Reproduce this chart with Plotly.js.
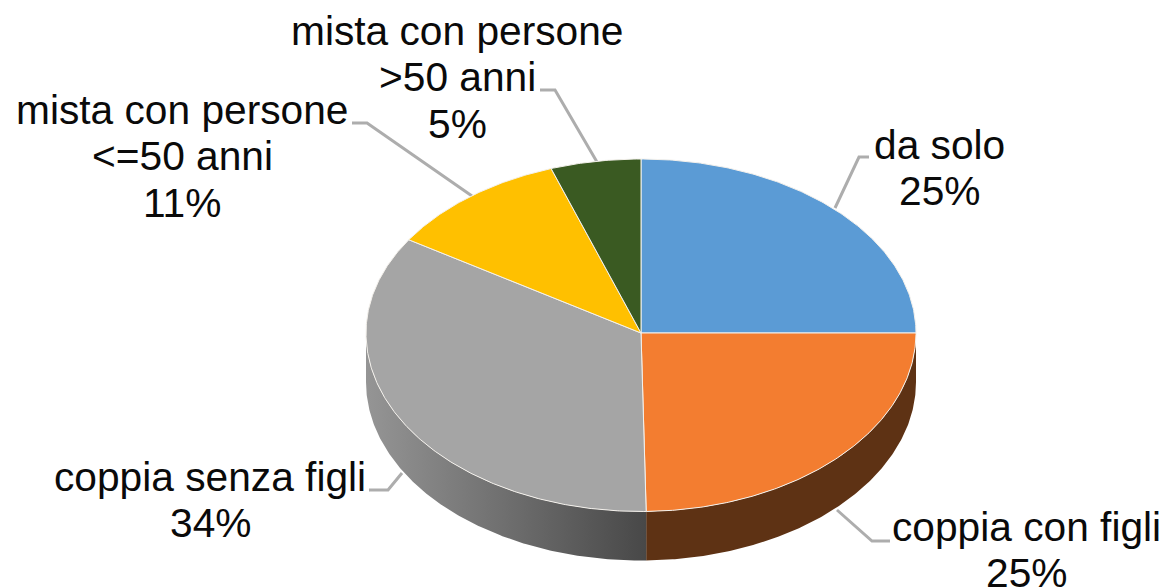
<!DOCTYPE html>
<html>
<head>
<meta charset="utf-8">
<script src="https://cdn.plot.ly/plotly-3.0.1.min.js"></script>
<style>html,body{margin:0;padding:0;background:#fff;overflow:hidden}#chart{width:1166px;height:587px}</style>
</head>
<body>
<div id="chart"></div>
<script>
const categories = ["da solo", "coppia con figli", "coppia senza figli", "mista con persone\n&lt;=50 anni", "mista con persone\n&gt;50 anni"];
const shares = [25, 24.7, 34.3, 10.7, 5.3];
const sliceColors = ["#5B9BD5", "#F37D30", "#A5A5A5", "#FFC000", "#3A5A22"];
const labelX = [939, 1026, 210, 182, 457];
const labelFirstY = [145, 527, 477, 110, 31];
const lineStep = 46.3;

// Tilted pie geometry (pixels; axes map 1:1 onto the page)
const cx = 641, cy = 333, rx = 275, ryTop = 174, ryBottom = 178.5, depth = 49;
const pt = (deg, dy) => {
  const a = deg * Math.PI / 180, c = Math.cos(a);
  return [cx + rx * Math.sin(a), cy - (c > 0 ? ryTop : ryBottom) * c + (dy || 0)];
};
const arc = (from, to, dy) => {
  const out = [], n = Math.max(2, Math.ceil(Math.abs(to - from) * 2));
  for (let i = 0; i <= n; i++) out.push(pt(from + (to - from) * i / n, dy));
  return out;
};

const total = shares.reduce((a, b) => a + b, 0);
const traces = [];

// Rim of the visible front part of the pie
const rim = (from, to, extra) => {
  const pts = arc(from, to, 0).concat(arc(to, from, depth));
  traces.push(Object.assign({
    type: "scatter", mode: "lines", x: pts.map(p => p[0]), y: pts.map(p => p[1]),
    fill: "toself", line: {width: 0}, hoverinfo: "skip", showlegend: false
  }, extra));
};
let acc = 0;
const bounds = shares.map(v => { const s = acc; acc += v; return [s / total * 360, acc / total * 360]; });
rim(bounds[1][0], bounds[1][1], {fillcolor: "#5E3214"});
rim(bounds[2][0], 270, {
  fillcolor: "#707070",
  fillgradient: {type: "horizontal", colorscale: [[0, "#959595"], [1, "#484848"]]}
});

// Top faces
shares.forEach((v, i) => {
  const pts = [[cx, cy]].concat(arc(bounds[i][0], bounds[i][1], 0), [[cx, cy]]);
  traces.push({
    type: "scatter", mode: "lines", name: categories[i],
    x: pts.map(p => p[0]), y: pts.map(p => p[1]),
    fill: "toself", fillcolor: sliceColors[i],
    line: {color: "#F4F1EC", width: 1}, hoverinfo: "skip", showlegend: false
  });
});

const leaderPaths = [
  "M835,208 L859,157 L869,157",
  "M837,510 L872,541 L890,541",
  "M402,473 L388,490 L369,490",
  "M472,196 L367,123 L352,123",
  "M597,162 L555,90 L540,90"
];

const annotations = [];
categories.forEach((c, i) => {
  c.split("\n").concat(Math.round(shares[i]) + "%").forEach((line, k) => {
    annotations.push({
      x: labelX[i], y: labelFirstY[i] + k * lineStep, xref: "x", yref: "y",
      text: line, showarrow: false, align: "center", xanchor: "center", yanchor: "middle",
      font: {family: "Liberation Sans, Arial, sans-serif", size: 40.7, color: "#0a0a0a"}
    });
  });
});

const layout = {
  width: 1166, height: 587,
  margin: {l: 0, r: 0, t: 0, b: 0},
  paper_bgcolor: "#fff", plot_bgcolor: "#fff",
  showlegend: false,
  xaxis: {range: [0, 1166], visible: false, fixedrange: true},
  yaxis: {range: [587, 0], visible: false, fixedrange: true},
  shapes: leaderPaths.map(p => ({
    type: "path", path: p, xref: "x", yref: "y", layer: "below",
    line: {color: "#ADADAD", width: 3}
  })),
  annotations: annotations
};

Plotly.newPlot("chart", traces, layout, {displayModeBar: false, staticPlot: true});
</script>
</body>
</html>
